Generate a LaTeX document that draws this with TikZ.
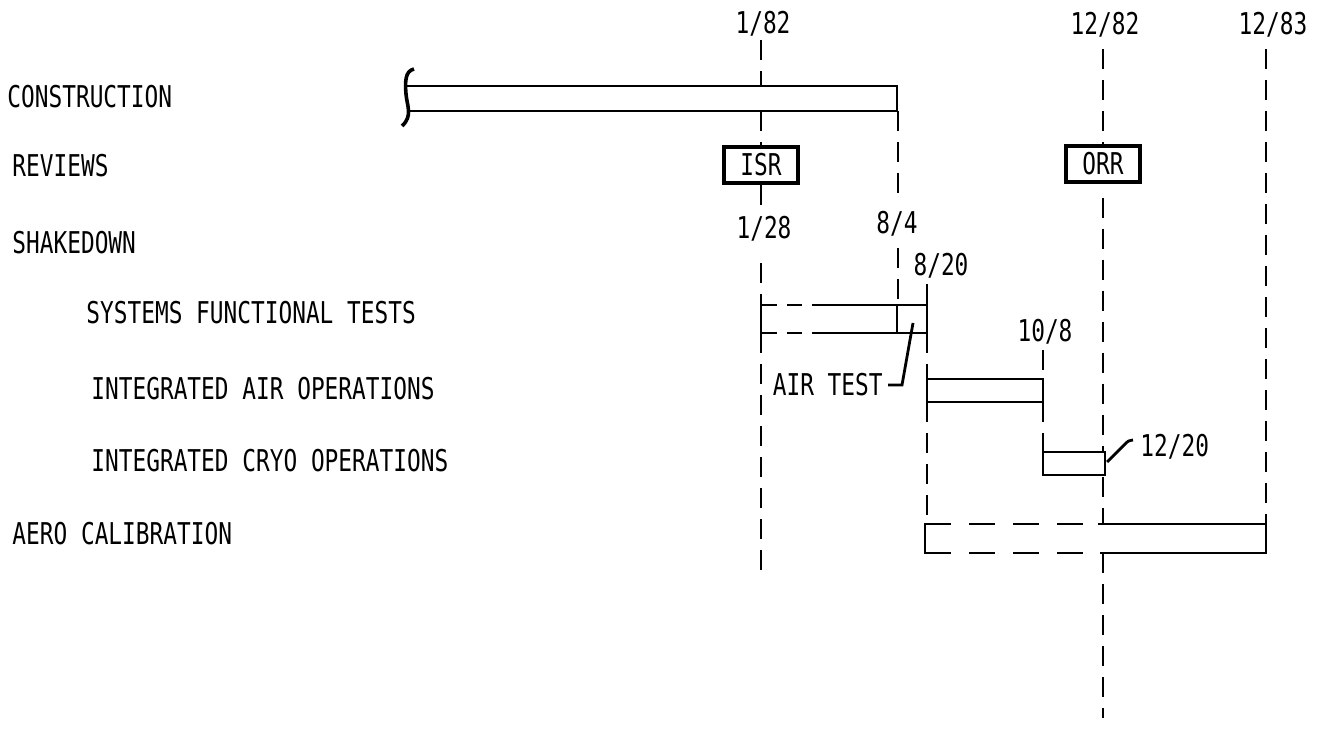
\documentclass[tikz,border=0pt]{standalone}
\usepackage{fontspec}
\newfontfamily\leroy[FakeStretch=0.76]{DejaVu Sans Mono}
\usetikzlibrary{positioning}

\begin{document}
\begin{tikzpicture}[x=0.5pt,y=-0.5pt,
  txt/.style={font=\leroy\fontsize{15}{17}\selectfont,inner sep=0pt,text height=10.9pt,text depth=0pt},
  tl/.style={line width=1.4pt,dash pattern=on 10pt off 5.5pt},
  bar/.style={line width=1.4pt},
  review/.style={txt,draw,line width=1.6pt,minimum width=37pt,minimum height=18pt}]
\useasboundingbox (0,0) rectangle (1320,731);
% activities
\node[txt,anchor=west] (con) at (7,97) {CONSTRUCTION};
\node[txt,anchor=west] (rev) at (12,166) {REVIEWS};
\node[txt,anchor=west] (shk) at (12,243) {SHAKEDOWN};
\node[txt,anchor=west] (sft) at (86,313) {SYSTEMS FUNCTIONAL TESTS};
\node[txt,anchor=west] (iao) at (91,389) {INTEGRATED AIR OPERATIONS};
\node[txt,anchor=west] (ico) at (91,461) {INTEGRATED CRYO OPERATIONS};
\node[txt,anchor=west] (aer) at (12,534) {AERO CALIBRATION};
% dates
\node[txt] (d182) at (763,23) {1/82};
\node[txt] (d1282) at (1105,24) {12/82};
\node[txt] (d1283) at (1273,24) {12/83};
\node[txt] (d128) at (764,228) {1/28};
\node[txt] (d84) at (897,223) {8/4};
\node[txt] (d820) at (941,265) {8/20};
\node[txt] (d108) at (1045,331) {10/8};
\node[txt,anchor=west] (d1220) at (1140,446) {12/20};
\node[txt,anchor=east] (air) at (883,385) {AIR TEST};
% reviews
\node[review] (isr) at (761,165) {ISR};
\node[review] (orr) at (1103,164) {ORR};
% construction
\draw[bar] (407,86) -- (897,86) -- (897,111) -- (410,111);
\draw[line width=1.8pt] (414,69) .. controls (405,71) and (405,82) .. (406,94)
    .. controls (407,106) and (413,116) .. (402,126);
% systems functional tests
\draw[bar] (812,305) -| (927,333) -- (812,333);
\draw[bar] (897,305) -- (897,333);
\draw[bar] (777,305) -| (761,333) -- (777,333);
\draw[bar] (787,305) -- (802,305) (787,333) -- (802,333);
% air, cryo
\draw[bar] (927,379) rectangle (1043,402);
\draw[bar] (1043,452) rectangle (1105,475);
% aero calibration
\draw[bar] (1098,524) -| (1266,553) -- (1100,553);
\draw[bar] (951,524) -| (925,553) -- (951,553);
\draw[bar,dash pattern=on 13pt off 9pt] (969,524) -- (1083,524) (969,553) -- (1083,553);
% leaders
\draw[bar] ([xshift=2.5pt]air.east) -- (902,385) -- (913,323);
\draw[bar] (1107,462) -- (1126,443) .. controls (1128,441) .. (1133,440);
% time lines
\draw[tl] ([yshift=-3pt]d182.south -| isr.north) -- (761,86);
\draw[tl] (761,111) -- (isr.north);
\draw[tl] (isr.south) -- ++(0,24);
\draw[tl] ([yshift=-12pt]d128.south -| isr.south) -- (761,305);
\draw[tl] (761,333) -- (761,570);
\draw[tl] (898,111) -- ([yshift=8pt]d84.north -| 898,0);
\draw[tl] ([yshift=-7pt]d84.south -| 898,0) -- (898,305);
\draw[tl] ([yshift=-4pt]d820.south -| 927,0) -- (927,305);
\draw[tl] (927,333) -- (927,379);
\draw[tl] (927,402) -- (927,524);
\draw[tl] ([yshift=-4pt]d108.south -| 1043,0) -- (1043,379);
\draw[tl] (1043,402) -- (1043,452);
\draw[tl] ([yshift=-7pt]d1282.south -| orr.north) -- (orr.north);
\draw[tl] ([yshift=-7pt]orr.south) -- (1103,452);
\draw[tl] (1103,477) -- (1103,524);
\draw[tl] (1103,553) -- (1103,718);
\draw[tl] ([yshift=-7pt]d1283.south -| 1266,0) -- (1266,524);
\end{tikzpicture}
\end{document}
